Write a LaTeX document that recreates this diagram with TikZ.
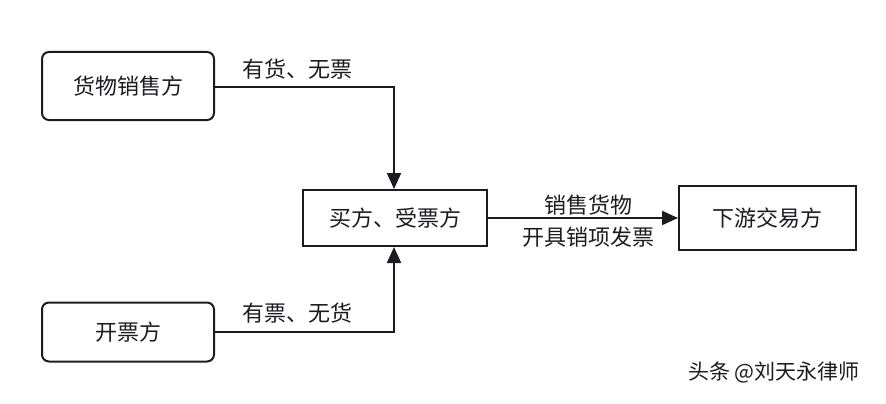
\documentclass[tikz,border=0pt]{standalone}
\usepackage{fontspec}
\setmainfont{Noto Sans CJK SC}
\usetikzlibrary{arrows.meta}
\definecolor{ink}{HTML}{1E1A22}
\tikzset{
  rbox/.style={draw=ink, line width=2pt, rounded corners=7pt, inner sep=0pt},
  sbox/.style={draw=ink, line width=2pt, inner sep=0pt},
  conn/.style={draw=ink, line width=2pt, -{Triangle[length=16pt,width=14pt]}},
  lbl/.style={text=ink, font=\fontsize{22}{24}\selectfont, inner sep=0pt},
}
\begin{document}
\begin{tikzpicture}[x=1pt,y=-1pt]
\useasboundingbox[fill=white] (0,0) rectangle (886,404);
% boxes
\node[rbox, minimum width=172pt, minimum height=68pt] (seller) at (128,86) {};
\node[lbl] at (seller.center) {货物销售方};
\node[rbox, minimum width=172pt, minimum height=59pt] (issuer) at (128,332) {};
\node[lbl] at (issuer.center) {开票方};
\node[sbox, minimum width=184pt, minimum height=56pt] (buyer) at (395,218) {};
\node[lbl] at (buyer.center) {买方、受票方};
\node[sbox, minimum width=177pt, minimum height=64pt] (down) at (767.5,218) {};
\node[lbl] at (down.center) {下游交易方};
% connectors
\coordinate (c1) at (394,87);
\coordinate (c2) at (394,332);
\draw[conn] (seller.east |- c1) -- (c1) -- (c1 |- buyer.north);
\draw[conn] (issuer.east |- c2) -- (c2) -- (c2 |- buyer.south);
\draw[conn] (buyer.east) -- (down.west);
% labels
\node[lbl] (l1) at (297,69) {有货、无票};
\node[lbl] (l2) at (297,313) {有票、无货};
\node[lbl] (l3) at (588,205) {销售货物};
\node[lbl] (l4) at (588,237) {开具销项发票};
% watermark
\node[text=ink, font=\fontsize{21}{23}\selectfont, inner sep=0pt] (wm) at (774,372) {头条 @刘天永律师};
\end{tikzpicture}
\end{document}
